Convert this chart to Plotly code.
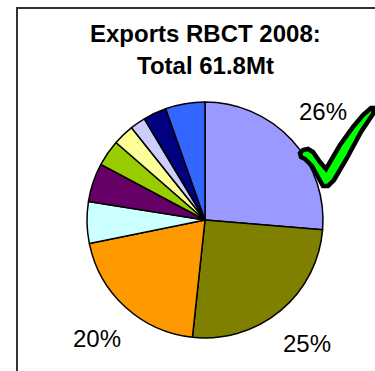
import math
import plotly.graph_objects as go

# ---- data ----
categories = ["Dest A", "Dest B", "Dest C", "Dest D", "Dest E",
              "Dest F", "Dest G", "Dest H", "Dest I", "Dest J"]
shares = [26.3, 25.4, 20.1, 5.7, 5.3, 3.6, 2.9, 2.1, 3.2, 5.4]
colors = ["#9999FF", "#808000", "#FF9900", "#CCFFFF", "#660066",
          "#99CC00", "#FFFF99", "#CCCCFF", "#000080", "#3366FF"]
title_lines = ["Exports RBCT 2008:", "Total 61.8Mt"]

W, H = 375, 371
CX, CY, R = 205, 220, 118          # pie centre / radius in pixels
LABEL_R = 160                      # radius for % labels
FONT = "Arial, Liberation Sans, sans-serif"

fig = go.Figure()
fig.add_trace(go.Pie(
    labels=categories, values=shares, sort=False,
    direction="clockwise", rotation=0,
    marker=dict(colors=colors, line=dict(color="black", width=1.5)),
    textinfo="none", showlegend=False,
    domain=dict(x=[(CX - R) / W, (CX + R) / W],
                y=[1 - (CY + R) / H, 1 - (CY - R) / H]),
))

annotations = []
total = sum(shares)
cum = 0.0
for v in shares:
    mid = (cum + v / 2) / total * 2 * math.pi
    cum += v
    pct = round(v / total * 100)
    if pct >= 10:
        px = CX + LABEL_R * math.sin(mid)
        py = CY - LABEL_R * math.cos(mid)
        annotations.append(dict(
            x=px / W, y=1 - py / H, xref="paper", yref="paper",
            text=f"{pct}%", showarrow=False, xanchor="center", yanchor="middle",
            font=dict(family=FONT, size=24, color="black")))

for i, t in enumerate(title_lines):
    annotations.append(dict(
        x=CX / W, y=1 - (33 + 32 * i) / H, xref="paper", yref="paper",
        text=f"<b>{t}</b>", showarrow=False, xanchor="center", yanchor="middle",
        font=dict(family=FONT, size=24, color="black")))

# check mark outline (pixel coords)
check = [(300, 153), (303, 150), (308, 149), (313, 152), (320, 162), (326, 169),
         (340, 145), (353, 127), (363, 115), (371, 108), (374, 108), (373, 114),
         (361, 132), (347, 158), (334, 180), (328, 186), (323, 186), (318, 177),
         (312, 166), (305, 159), (301, 157)]
path = "M " + " L ".join(f"{x / W:.5f},{1 - y / H:.5f}" for x, y in check) + " Z"

shapes = [
    dict(type="rect", xref="paper", yref="paper",
         x0=17 / W, x1=1.2, y0=-0.2, y1=1 - 8 / H,
         line=dict(color="#333333", width=2), fillcolor="rgba(0,0,0,0)"),
    dict(type="path", xref="paper", yref="paper", path=path,
         fillcolor="#00FF00", line=dict(color="black", width=4.5)),
]

fig.update_layout(
    width=W, height=H, autosize=False,
    margin=dict(l=0, r=0, t=0, b=0),
    paper_bgcolor="white", plot_bgcolor="white",
    annotations=annotations, shapes=shapes,
)
fig.write_html("out.html")
